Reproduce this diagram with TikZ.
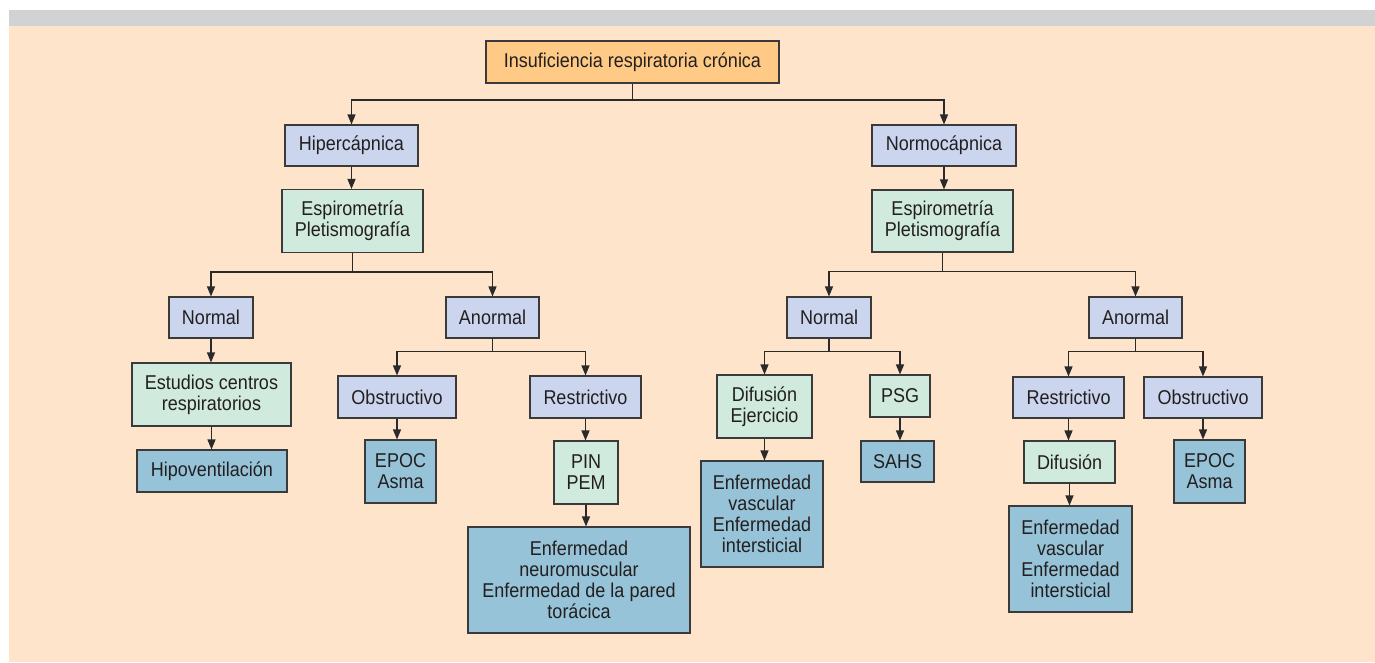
\documentclass[tikz,border=0pt]{standalone}
\usepackage{fontspec}
\setmainfont{Liberation Sans}[FakeStretch=0.9]
\usetikzlibrary{arrows.meta}
\definecolor{peach}{HTML}{FEE4CA}
\definecolor{topgray}{HTML}{D1D2D4}
\definecolor{corange}{HTML}{FFCA85}
\definecolor{cblue}{HTML}{CBD5EE}
\definecolor{cgreen}{HTML}{D0EADD}
\definecolor{cteal}{HTML}{96C3D7}
\definecolor{bordercol}{HTML}{3A3A3A}
\definecolor{linecol}{HTML}{2A2A2A}
\definecolor{textcol}{HTML}{231F20}
\tikzset{
  box/.style={draw=bordercol, line width=1.1pt, inner sep=0pt, align=center,
    font=\fontsize{20}{21}\selectfont, text=textcol},
  orangebox/.style={box, fill=corange},
  bluebox/.style={box, fill=cblue},
  greenbox/.style={box, fill=cgreen},
  tealbox/.style={box, fill=cteal},
  sz/.style 2 args={minimum width=#1pt, minimum height=#2pt},
  arr/.style={draw=linecol, line width=1.2pt, -{Triangle[length=10pt,width=8pt]}},
}
\begin{document}
\begin{tikzpicture}[x=1pt,y=-1pt]
\useasboundingbox (0,0) rectangle (1375,662);
\fill[white] (0,0) rectangle (1375,662);
\fill[topgray] (9,10) rectangle (1375,26);
\fill[peach] (9,26) rectangle (1375,662);

\node[orangebox, sz={293}{42}] (root) at (632.5,62) {Insuficiencia respiratoria crónica};

\node[bluebox, sz={133}{41}] (hiper) at (351.5,145.5) {Hipercápnica};
\node[greenbox, sz={141}{63}] (espL) at (352.5,221) {Espirometría\\Pletismografía};
\node[bluebox, sz={144}{41}] (normo) at (944,145.5) {Normocápnica};
\node[greenbox, sz={141}{62}] (espR) at (942.5,221) {Espirometría\\Pletismografía};

\node[bluebox, sz={84}{41}] (normL) at (211,317.5) {Normal};
\node[bluebox, sz={93}{41}] (anorL) at (492.5,317.5) {Anormal};
\node[bluebox, sz={84}{41}] (normR) at (829,317.5) {Normal};
\node[bluebox, sz={93}{41}] (anorR) at (1135.5,317.5) {Anormal};

\node[greenbox, sz={159}{63}] (estud) at (211.5,394.5) {Estudios centros\\respiratorios};
\node[tealbox, sz={150}{42}] (hipov) at (212,471) {Hipoventilación};

\node[bluebox, sz={118}{42}] (obsL) at (397,397) {Obstructivo};
\node[tealbox, sz={71}{63}] (epocL) at (400.5,471.5) {EPOC\\Asma};
\node[bluebox, sz={111}{42}] (resL) at (585.5,397) {Restrictivo};
\node[greenbox, sz={64}{63}] (pin) at (586,472.5) {PIN\\PEM};
\node[tealbox, sz={222}{106}] (enfNM) at (579,580) {Enfermedad\\neuromuscular\\Enfermedad de la pared\\torácica};

\node[greenbox, sz={95}{63}] (difEj) at (764.5,406.5) {Difusión\\Ejercicio};
\node[greenbox, sz={60}{42}] (psg) at (900,396) {PSG};
\node[tealbox, sz={73}{41}] (sahs) at (897.5,461.5) {SAHS};
\node[tealbox, sz={122}{106}] (enfV1) at (762,514) {Enfermedad\\vascular\\Enfermedad\\intersticial};

\node[bluebox, sz={111}{41}] (resR) at (1068.5,397.5) {Restrictivo};
\node[greenbox, sz={91}{42}] (difR) at (1069.5,462) {Difusión};
\node[tealbox, sz={123}{106}] (enfV2) at (1070.5,559) {Enfermedad\\vascular\\Enfermedad\\intersticial};
\node[bluebox, sz={118}{41}] (obsR) at (1203,397.5) {Obstructivo};
\node[tealbox, sz={71}{63}] (epocR) at (1209.5,471.5) {EPOC\\Asma};

% connectors
\draw[arr] (root.south) -- ++(0,16.5) -| (hiper.north);
\draw[arr] (root.south) -- ++(0,16.5) -| (normo.north);
\draw[arr] (hiper.south) -- (hiper.south |- espL.north);
\draw[arr] (normo.south) -- (normo.south |- espR.north);

\draw[arr] (espL.south) -- ++(0,19) -| (normL.north);
\draw[arr] (espL.south) -- ++(0,19) -| (anorL.north);
\draw[arr] (espR.south) -- ++(0,19) -| (normR.north);
\draw[arr] (espR.south) -- ++(0,19) -| (anorR.north);

\draw[arr] (normL.south) -- (normL.south |- estud.north);
\draw[arr] (estud.south) -- (estud.south |- hipov.north);

\draw[arr] (anorL.south) -- ++(0,13) -| (obsL.north);
\draw[arr] (anorL.south) -- ++(0,13) -| (resL.north);
\draw[arr] (obsL.south) -- (obsL.south |- epocL.north);
\draw[arr] (resL.south) -- (resL.south |- pin.north);
\draw[arr] (pin.south) -- (pin.south |- enfNM.north);

\draw[arr] (normR.south) -- ++(0,13) -| (difEj.north);
\draw[arr] (normR.south) -- ++(0,13) -| (psg.north);
\draw[arr] (difEj.south) -- (difEj.south |- enfV1.north);
\draw[arr] (psg.south) -- (psg.south |- sahs.north);

\draw[arr] (anorR.south) -- ++(0,13) -| (resR.north);
\draw[arr] (anorR.south) -- ++(0,13) -| (obsR.north);
\draw[arr] (resR.south) -- (resR.south |- difR.north);
\draw[arr] (difR.south) -- (difR.south |- enfV2.north);
\draw[arr] (obsR.south) -- (obsR.south |- epocR.north);
\end{tikzpicture}
\end{document}
